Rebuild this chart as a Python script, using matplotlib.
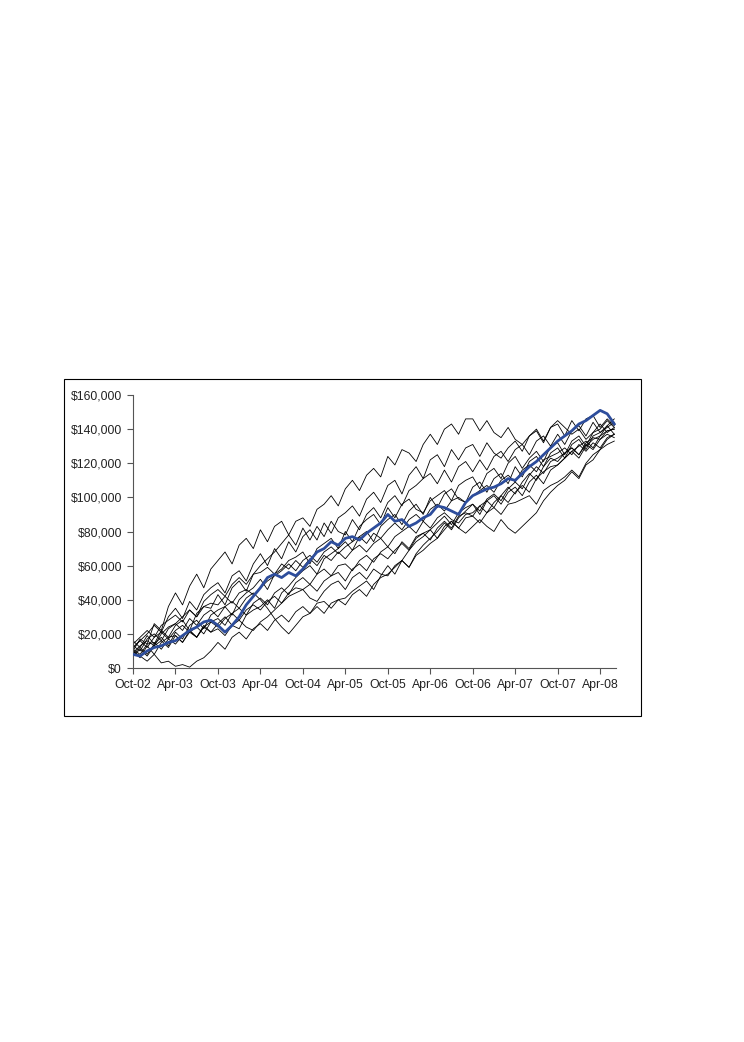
import matplotlib
matplotlib.use('Agg')
import matplotlib.pyplot as plt
import numpy as np
from matplotlib.patches import Rectangle
from matplotlib.ticker import FuncFormatter

plt.rcParams['font.family'] = ['Liberation Sans', 'DejaVu Sans']

# monthly values in $k, Oct-02 (month 0) to Jun-08 (month 68)
path_a = [10, 17, 14, 26, 22, 36, 44, 37, 48, 55, 47, 58,
          63, 68, 61, 72, 76, 70, 81, 74, 83, 86, 78, 86,
          88, 83, 93, 96, 101, 95, 105, 110, 104, 113, 117, 112,
          124, 119, 128, 126, 121, 131, 137, 131, 140, 143, 137, 146,
          146, 139, 145, 138, 135, 141, 134, 131, 136, 140, 133, 141,
          145, 141, 137, 140, 134, 138, 143, 138, 141]
path_b = [12, 16, 20, 25, 21, 30, 35, 29, 39, 34, 43, 47,
          50, 44, 54, 57, 51, 61, 67, 60, 70, 64, 74, 68,
          77, 81, 75, 85, 79, 88, 91, 95, 89, 99, 103, 97,
          107, 110, 102, 113, 118, 111, 122, 125, 118, 128, 122, 129,
          131, 124, 132, 126, 123, 129, 133, 127, 136, 139, 132, 141,
          143, 136, 145, 139, 146, 148, 141, 146, 142]
path_c = [16, 12, 19, 14, 22, 18, 25, 28, 22, 32, 36, 35,
          43, 37, 47, 51, 45, 55, 60, 64, 68, 73, 78, 72,
          82, 75, 83, 77, 86, 80, 78, 87, 81, 90, 94, 88,
          97, 101, 95, 104, 107, 111, 114, 108, 116, 109, 118, 121,
          115, 122, 116, 124, 127, 121, 128, 131, 125, 133, 136, 130,
          137, 131, 139, 142, 136, 144, 138, 142, 137]
path_d = [8, 12, 8, 14, 18, 13, 21, 17, 25, 28, 23, 31,
          34, 36, 31, 40, 44, 47, 52, 46, 55, 58, 63, 65,
          68, 61, 70, 73, 76, 70, 80, 74, 83, 87, 90, 84,
          94, 88, 96, 99, 93, 91, 98, 101, 104, 98, 107, 110,
          112, 105, 114, 117, 111, 120, 124, 117, 123, 127, 121, 130,
          132, 125, 133, 136, 130, 138, 140, 145, 141]
path_e = [10, 6, 13, 8, 15, 18, 19, 15, 22, 18, 25, 21,
          26, 30, 25, 23, 31, 34, 36, 40, 35, 44, 48, 53,
          57, 60, 55, 64, 67, 70, 74, 69, 77, 80, 74, 83,
          87, 90, 84, 92, 96, 90, 100, 94, 102, 105, 99, 97,
          106, 109, 103, 111, 114, 108, 118, 112, 121, 124, 118, 126,
          129, 123, 131, 134, 128, 136, 138, 141, 144]
path_f = [10, 7, 4, 8, 3, 4, 1, 2, 0.5, 4, 6, 10,
          15, 11, 18, 21, 17, 23, 26, 22, 28, 31, 27, 33,
          36, 32, 38, 39, 35, 40, 41, 45, 48, 51, 46, 54,
          60, 55, 63, 69, 74, 77, 81, 85, 89, 84, 91, 94,
          96, 90, 98, 101, 96, 103, 106, 101, 109, 113, 108, 116,
          119, 123, 127, 130, 133, 129, 136, 139, 140]
path_g = [12, 16, 12, 18, 21, 17, 22, 25, 21, 18, 24, 27,
          24, 29, 32, 28, 34, 37, 34, 39, 42, 38, 44, 47,
          46, 41, 39, 45, 49, 51, 46, 53, 56, 52, 58, 55,
          54, 60, 63, 59, 66, 69, 73, 76, 81, 86, 82, 79,
          83, 87, 83, 80, 87, 82, 79, 83, 87, 91, 98, 103,
          107, 110, 115, 111, 119, 122, 128, 134, 137]
path_h = [13, 10, 17, 20, 16, 23, 26, 22, 29, 25, 31, 34,
          30, 36, 39, 35, 41, 44, 40, 35, 29, 24, 20, 25,
          30, 32, 36, 32, 38, 40, 37, 43, 46, 42, 49, 53,
          55, 59, 63, 59, 67, 72, 76, 80, 85, 81, 88, 92,
          96, 92, 99, 102, 98, 105, 109, 105, 113, 118, 114, 121,
          123, 126, 129, 125, 132, 135, 134, 139, 140]
path_i = [9, 13, 16, 13, 20, 24, 26, 30, 34, 30, 39, 43,
          46, 42, 49, 53, 49, 55, 56, 59, 55, 61, 58, 63,
          59, 64, 60, 66, 63, 68, 64, 69, 72, 68, 73, 76,
          71, 77, 80, 83, 79, 86, 82, 88, 91, 87, 85, 90,
          91, 95, 91, 97, 101, 97, 103, 107, 103, 111, 115, 118,
          119, 123, 127, 123, 130, 134, 136, 142, 146]
path_j = [14, 18, 22, 18, 25, 28, 31, 27, 34, 30, 36, 38,
          37, 42, 38, 44, 46, 43, 47, 51, 54, 57, 61, 57,
          63, 66, 62, 68, 71, 67, 71, 74, 77, 73, 79, 76,
          81, 85, 81, 87, 90, 86, 93, 96, 92, 98, 100, 97,
          101, 104, 107, 103, 110, 113, 109, 116, 119, 115, 122, 124,
          126, 129, 125, 131, 127, 132, 129, 135, 137]
path_k = [7, 11, 7, 13, 16, 12, 19, 15, 21, 24, 20, 27,
          29, 25, 32, 35, 31, 38, 41, 37, 44, 47, 43, 50,
          53, 49, 55, 58, 54, 60, 61, 57, 63, 66, 62, 68,
          71, 67, 74, 70, 77, 79, 81, 76, 83, 86, 82, 88,
          89, 85, 91, 94, 90, 96, 97, 99, 101, 96, 104, 107,
          109, 112, 116, 112, 120, 125, 128, 131, 133]
path_l = [11, 8, 14, 15, 11, 17, 14, 19, 22, 18, 24, 21,
          23, 19, 25, 28, 24, 22, 27, 30, 34, 38, 42, 44,
          46, 49, 45, 51, 54, 56, 51, 58, 61, 57, 64, 67,
          64, 69, 73, 69, 76, 79, 75, 82, 86, 82, 89, 91,
          89, 95, 98, 94, 101, 106, 102, 109, 114, 110, 118, 123,
          121, 126, 129, 125, 131, 128, 134, 137, 135]
path_blue = [8, 7, 10, 12, 13, 15, 16, 19, 22, 24, 27, 28,
             25, 21, 25, 30, 37, 42, 47, 53, 55, 53, 56, 54,
             58, 63, 68, 70, 74, 72, 76, 77, 75, 79, 82, 85,
             90, 86, 87, 83, 85, 88, 90, 95, 94, 92, 90, 97,
             101, 103, 105, 106, 108, 111, 110, 114, 118, 121, 125, 129,
             133, 136, 139, 143, 145, 148, 151, 149, 143]

black_paths = [path_a, path_b, path_c, path_d, path_e, path_f,
               path_g, path_h, path_i, path_j, path_k, path_l]

tick_months = [0, 6, 12, 18, 24, 30, 36, 42, 48, 54, 60, 66]
tick_labels = ['Oct-02', 'Apr-03', 'Oct-03', 'Apr-04', 'Oct-04', 'Apr-05',
               'Oct-05', 'Apr-06', 'Oct-06', 'Apr-07', 'Oct-07', 'Apr-08']

fig = plt.figure(figsize=(7.44, 10.42), dpi=100)

# outer frame round the chart
fig.patches.append(Rectangle((64 / 744, 1 - 716 / 1042), 577 / 744, 337 / 1042,
                             transform=fig.transFigure, fill=False,
                             edgecolor='black', lw=0.8))

ax = fig.add_axes([133 / 744, 1 - 668 / 1042, 482.7 / 744, 273 / 1042])

months = np.arange(len(path_blue))
for p in black_paths:
    ax.plot(months, np.array(p) * 1000, color='black', lw=0.6)
ax.plot(months, np.array(path_blue) * 1000, color='#2d4d9c', lw=2.0, zorder=5)

ax.set_xlim(0, 68.2)
ax.set_ylim(0, 160000)
ax.set_yticks(np.arange(0, 160001, 20000))
ax.yaxis.set_major_formatter(FuncFormatter(lambda v, pos: '${:,.0f}'.format(v)))
ax.set_xticks(tick_months)
ax.set_xticklabels(tick_labels)

for s in ['top', 'right']:
    ax.spines[s].set_visible(False)
for s in ['left', 'bottom']:
    ax.spines[s].set_color('#555555')
    ax.spines[s].set_linewidth(0.8)
ax.tick_params(axis='both', direction='out', length=4, width=0.8,
               color='#555555', labelsize=8.8, labelcolor='#222222', pad=4)

fig.savefig('out.png', dpi=100)
